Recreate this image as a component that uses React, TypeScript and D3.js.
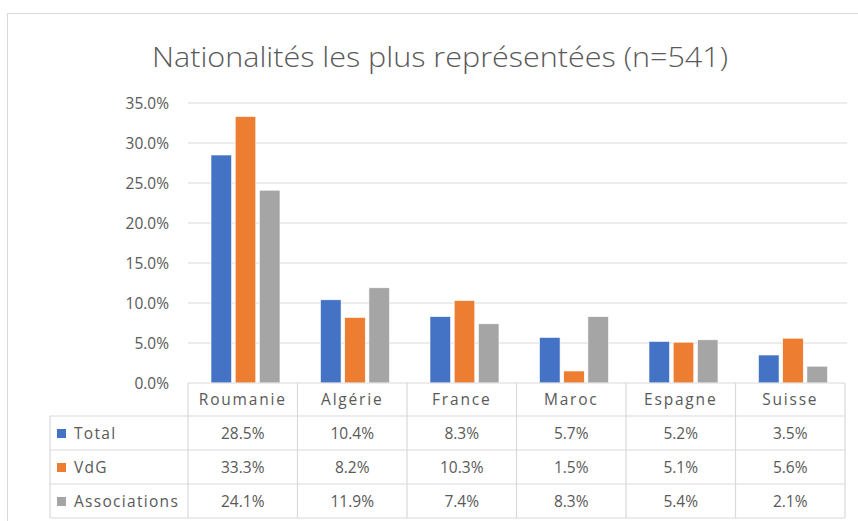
import React from "react";
import * as d3 from "d3";

const categories = ["Roumanie", "Algérie", "France", "Maroc", "Espagne", "Suisse"];
const seriesNames = ["Total", "VdG", "Associations"];
const totalValues = [28.5, 10.4, 8.3, 5.7, 5.2, 3.5];
const vdgValues = [33.3, 8.2, 10.3, 1.5, 5.1, 5.6];
const associationsValues = [24.1, 11.9, 7.4, 8.3, 5.4, 2.1];
const yTicks = [0, 5, 10, 15, 20, 25, 30, 35];
const colors = ["#4472C4", "#ED7D31", "#A5A5A5"];

const seriesValues = [totalValues, vdgValues, associationsValues];

const W = 858;
const H = 521;
const plotLeft = 188;
const plotRight = 845;
const plotTop = 103;
const plotBottom = 383;
const rowH = 34;
const tableLeft = 50;
const FONT = "'Open Sans', Lato, sans-serif";
const TXT = "#595959";
const GRID = "#d9d9d9";

export default function App() {
  const x = d3.scaleBand<string>().domain(categories).range([plotLeft, plotRight]).padding(0);
  const bw = x.bandwidth();
  const inner = d3
    .scaleBand<string>()
    .domain(seriesNames)
    .range([bw * 0.21, bw * 0.84])
    .paddingInner(0.15);
  const y = d3.scaleLinear().domain([0, 35]).range([plotBottom, plotTop]);
  const fmt = (v: number) => v.toFixed(1) + "%";

  const headerTop = plotBottom;
  const headerBottom = headerTop + 33;
  const rowsBottom = headerBottom + rowH * 3;

  return (
    <svg
      width={W}
      height={H}
      style={{ position: "absolute", left: 0, top: 0, background: "#fff" }}
      fontFamily={FONT}
    >
      <rect x={7.5} y={13.5} width={W + 20} height={H + 20} fill="#fff" stroke={GRID} />
      <text
        x={440}
        y={67}
        textAnchor="middle"
        fontSize={28}
        fontWeight={300}
        fill={TXT}
        textLength={576}
        lengthAdjust="spacingAndGlyphs"
      >
        Nationalités les plus représentées (n=541)
      </text>
      {yTicks.map((t) => (
        <g key={t}>
          {t > 0 && (
            <line x1={plotLeft} x2={847} y1={y(t)} y2={y(t)} stroke={GRID} strokeWidth={1} />
          )}
          <text x={169} y={y(t) + 5.5} textAnchor="end" fontSize={15.5} fill={TXT}>
            {fmt(t)}
          </text>
        </g>
      ))}
      {categories.map((c, i) => (
        <g key={c}>
          {seriesNames.map((s, j) => {
            const v = seriesValues[j][i];
            return (
              <rect
                key={s}
                x={(x(c) as number) + (inner(s) as number)}
                y={y(v)}
                width={inner.bandwidth()}
                height={y(0) - y(v)}
                fill={colors[j]}
                stroke="#fff"
                strokeWidth={0.6}
              />
            );
          })}
        </g>
      ))}
      {/* table */}
      <g stroke={GRID} strokeWidth={1.2} fill="none">
        <line x1={plotLeft} x2={plotRight} y1={headerTop} y2={headerTop} />
        {[headerBottom, headerBottom + rowH, headerBottom + rowH * 2, rowsBottom].map((yy, k) => (
          <line key={k} x1={tableLeft} x2={plotRight} y1={yy} y2={yy} />
        ))}
        <line x1={tableLeft} x2={tableLeft} y1={headerBottom} y2={rowsBottom} />
        {categories.map((c) => (
          <line key={c} x1={x(c) as number} x2={x(c) as number} y1={headerTop} y2={rowsBottom} />
        ))}
        <line x1={plotRight} x2={plotRight} y1={headerTop} y2={rowsBottom} />
      </g>
      {categories.map((c) => (
        <text
          key={c}
          x={(x(c) as number) + bw / 2}
          y={headerTop + 22}
          textAnchor="middle"
          fontSize={15.5}
          letterSpacing={1.8}
          fill={TXT}
        >
          {c}
        </text>
      ))}
      {seriesNames.map((s, j) => {
        const rowTop = headerBottom + rowH * j;
        return (
          <g key={s}>
            <rect x={57} y={rowTop + 13} width={9} height={9} fill={colors[j]} />
            <text x={74} y={rowTop + 23} fontSize={15.5} letterSpacing={1.3} fill={TXT}>
              {s}
            </text>
            {categories.map((c, i) => (
              <text
                key={c}
                x={(x(c) as number) + bw / 2}
                y={rowTop + 23}
                textAnchor="middle"
                fontSize={15.5}
                fill={TXT}
              >
                {fmt(seriesValues[j][i])}
              </text>
            ))}
          </g>
        );
      })}
    </svg>
  );
}
